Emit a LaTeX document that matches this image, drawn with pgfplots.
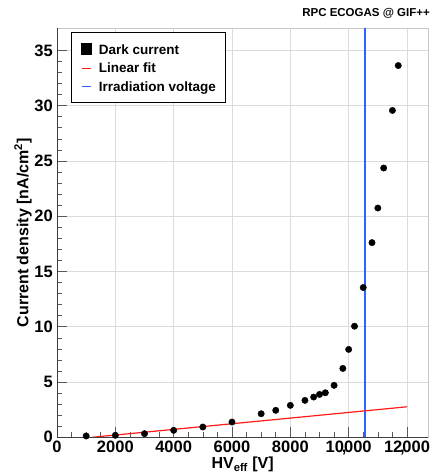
\documentclass[border=0pt]{standalone}
\usepackage{fontspec}
\setmainfont{Liberation Sans}
\usepackage{pgfplots}
\pgfplotsset{compat=1.18}
\definecolor{rootblue}{rgb}{0.18,0.39,1.0}
\definecolor{rootred}{rgb}{1.0,0.1,0.1}
\begin{document}
\begin{tikzpicture}
\begin{axis}[
 at={(0,0)}, anchor=south west,
 scale only axis, width=371.3pt, height=409pt,
 xmin=0, xmax=12730, ymin=0, ymax=37,
 xtick={0,2000,4000,6000,8000,10000,12000},
 xticklabels={0,2000,4000,6000,8000,10\makebox[0pt]{,}000,12\makebox[0pt]{,}000},
 scaled x ticks=false,
 ytick={0,5,10,15,20,25,30,35},
 minor x tick num=3, minor y tick num=4,
 tick pos=left, tick align=inside,
 major tick length=10pt, minor tick length=5pt,
 tick style={black!65, line width=0.6pt},
 grid=major, major grid style={black!14, line width=0.6pt},
 axis line style={black!22, line width=0.6pt},
 /pgf/number format/assume math mode=true,
 ticklabel style={font=\bfseries\fontsize{16.5}{16.5}\selectfont, inner sep=0pt},
 xticklabel style={yshift=-3.4pt},
 yticklabel style={xshift=-4pt},
 xlabel={HV\textsubscript{eff} [V]},
 xlabel style={at={(axis description cs:0.5,-0.0775)}, anchor=base, inner sep=0pt, font=\bfseries\fontsize{16}{16}\selectfont},
 ylabel={Current density [nA/cm\textsuperscript{2}]},
 ylabel style={at={(axis description cs:-0.0773,0.5)}, anchor=base, inner sep=0pt, font=\bfseries\fontsize{16}{16}\selectfont},
 title={RPC ECOGAS @ GIF++},
 title style={at={(axis description cs:1.0046,1.0154)}, anchor=base east, inner sep=0pt, font=\bfseries\fontsize{11.5}{11.5}\selectfont},
 legend cell align=left,
 legend style={at={(axis description cs:0.0377,0.99)}, anchor=north west, draw=black, line width=0.9pt, fill=white,
   inner xsep=9.5pt, inner ysep=9.5pt, row sep=5.6pt, column sep=6.7pt,
   font=\bfseries\fontsize{13.5}{13.5}\selectfont,
   nodes={inner sep=0pt, text height=12pt, text depth=1pt, anchor=base west}},
]
\addplot[draw=rootblue, line width=2pt, forget plot]
 coordinates {(10560,0) (10560,37)};
\addplot[only marks, mark=*, mark size=3.2pt, black,
  legend image code/.code={\fill[black] (0pt,0pt) rectangle (10pt,10.7pt);}]
 table[row sep=\\] {
 x y\\
 1000 0.12\\
 2000 0.18\\
 3000 0.33\\
 4000 0.63\\
 5000 0.93\\
 6000 1.38\\
 7000 2.13\\
 7500 2.44\\
 8000 2.89\\
 8500 3.34\\
 8800 3.64\\
 9000 3.88\\
 9200 4.03\\
 9500 4.70\\
 9800 6.23\\
 10000 7.95\\
 10200 10.05\\
 10500 13.55\\
 10800 17.61\\
 11000 20.74\\
 11200 24.36\\
 11500 29.57\\
 11700 33.63\\
 };
\addlegendentry{Dark current}
\addplot[draw=rootred, line width=1.2pt,
  legend image code/.code={\draw[rootred, line width=1.2pt] (0pt,4.8pt) -- (9pt,4.8pt);}]
 coordinates {(1200,0) (12000,2.76)};
\addlegendentry{Linear fit}
\addlegendimage{legend image code/.code={\draw[rootblue, line width=1.5pt] (0pt,4.8pt) -- (9pt,4.8pt);}}
\addlegendentry{Irradiation voltage}
\draw[black!75, line width=0.7pt] (rel axis cs:0,1) -- (rel axis cs:0,0) -- (rel axis cs:1,0);
\end{axis}
\pgfresetboundingbox
\useasboundingbox (-57pt,-36.7pt) rectangle (376pt,437.3pt);
\end{tikzpicture}
\end{document}
